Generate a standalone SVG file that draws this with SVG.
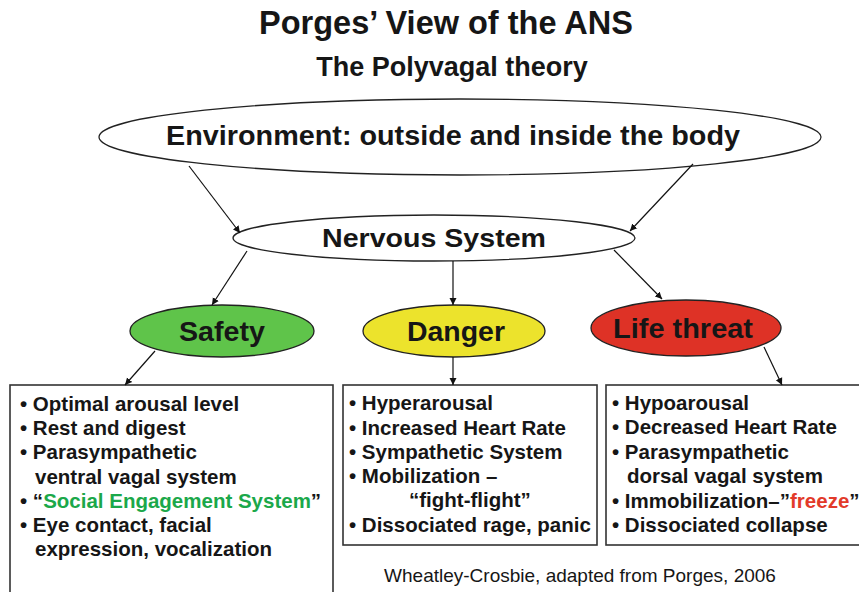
<svg xmlns="http://www.w3.org/2000/svg" width="859" height="592" viewBox="0 0 859 592">
<defs>
<marker id="ah" markerWidth="8" markerHeight="8" refX="7" refY="4" orient="auto" markerUnits="userSpaceOnUse">
<path d="M0,0.5 L7,4 L0,7.5 Z" fill="#111"/>
</marker>
</defs>
<style>
text{font-family:"Liberation Sans",Arial,sans-serif;fill:#161616}
.b{font-weight:bold}
.ell{stroke:#222;stroke-width:1.3}
.box{fill:#fff;stroke:#333;stroke-width:1.6}
.li{font-size:20.5px;font-weight:bold}
.conn line{stroke:#111;stroke-width:1.2;marker-end:url(#ah)}
</style>
<rect width="859" height="592" fill="#fff"/>
<text class="b" x="446" y="34" font-size="32.5" text-anchor="middle">Porges’ View of the ANS</text>
<text class="b" x="452" y="76" font-size="27" text-anchor="middle">The Polyvagal theory</text>

<g id="environment">
<ellipse class="ell" cx="460" cy="137" rx="361" ry="38" fill="#fff"/>
<text class="b" x="453" y="145" font-size="27" text-anchor="middle" textLength="574" lengthAdjust="spacingAndGlyphs">Environment: outside and inside the body</text>
</g>
<g id="nervous">
<ellipse class="ell" cx="434" cy="238" rx="201" ry="23" fill="#fff"/>
<text class="b" x="434" y="247" font-size="25" text-anchor="middle" textLength="224" lengthAdjust="spacingAndGlyphs">Nervous System</text>
</g>
<g id="safety">
<ellipse class="ell" cx="222" cy="331" rx="92" ry="26" fill="#5fc44a"/>
<text class="b" x="222" y="341" font-size="27" text-anchor="middle" textLength="86" lengthAdjust="spacingAndGlyphs">Safety</text>
</g>
<g id="danger">
<ellipse class="ell" cx="454" cy="331" rx="91" ry="26" fill="#ece32c"/>
<text class="b" x="456" y="341" font-size="27" text-anchor="middle" textLength="98" lengthAdjust="spacingAndGlyphs">Danger</text>
</g>
<g id="lifethreat">
<ellipse class="ell" cx="686" cy="328" rx="95" ry="28" fill="#de3226"/>
<text class="b" x="683" y="338" font-size="27" text-anchor="middle" textLength="140" lengthAdjust="spacingAndGlyphs">Life threat</text>
</g>

<g id="box-safety">
<rect class="box" x="10" y="385" width="323" height="215"/>
<text class="li" x="20" y="411">• Optimal arousal level</text>
<text class="li" x="20" y="435">• Rest and digest</text>
<text class="li" x="20" y="459">• Parasympathetic</text>
<text class="li" x="35" y="484">ventral vagal system</text>
<text class="li" x="20" y="508">• “<tspan fill="#1ba84a">Social Engagement System</tspan>”</text>
<text class="li" x="20" y="532">• Eye contact, facial</text>
<text class="li" x="35" y="556">expression, vocalization</text>
</g>
<g id="box-danger">
<rect class="box" x="343" y="385" width="254" height="160"/>
<text class="li" x="349" y="410">• Hyperarousal</text>
<text class="li" x="349" y="435">• Increased Heart Rate</text>
<text class="li" x="349" y="459">• Sympathetic System</text>
<text class="li" x="349" y="483">• Mobilization –</text>
<text class="li" x="409" y="507">“fight-flight”</text>
<text class="li" x="349" y="532">• Dissociated rage, panic</text>
</g>
<g id="box-life">
<rect class="box" x="606" y="385" width="260" height="160"/>
<text class="li" x="612" y="410">• Hypoarousal</text>
<text class="li" x="612" y="434">• Decreased Heart Rate</text>
<text class="li" x="612" y="459">• Parasympathetic</text>
<text class="li" x="627" y="483">dorsal vagal system</text>
<text class="li" x="612" y="508">• Immobilization–”<tspan fill="#e23a2a">freeze</tspan>”</text>
<text class="li" x="612" y="532">• Dissociated collapse</text>
</g>

<g id="connectors" class="conn">
<line x1="189" y1="166" x2="240" y2="233"/>
<line x1="693" y1="164" x2="630" y2="231"/>
<line x1="247" y1="251" x2="212" y2="305"/>
<line x1="453" y1="261" x2="453" y2="305"/>
<line x1="614" y1="250" x2="662" y2="299"/>
<line x1="155" y1="351" x2="125" y2="385"/>
<line x1="453" y1="357" x2="453" y2="385"/>
<line x1="764" y1="347" x2="782" y2="385"/>
</g>

<text x="580" y="582" font-size="19" text-anchor="middle">Wheatley-Crosbie, adapted from Porges, 2006</text>
</svg>
